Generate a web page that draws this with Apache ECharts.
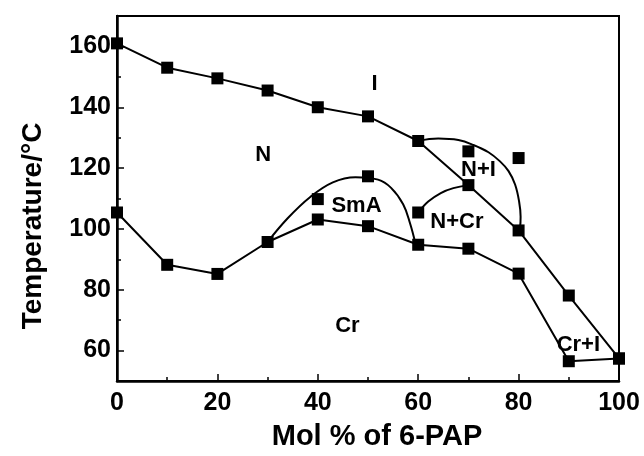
<!DOCTYPE html>
<html>
<head>
<meta charset="utf-8">
<script src="https://cdn.jsdelivr.net/npm/echarts@6/dist/echarts.min.js"></script>
<style>html,body{margin:0;padding:0;background:#fff;}#chart{width:644px;height:456px;}</style>
</head>
<body>
<div id="chart"></div>
<script>
// Compositions (mol % of 6-PAP)
const xValues = [0, 10, 20, 30, 40, 50, 60, 70, 80, 90, 100];
// Upper transition line (N / I boundary)
const upperT = [161, 153, 149.5, 145.5, 140, 137, 128.9, 114.4, 99.5, 78.1, 57.4];
// Lower transition line (Cr melting)
const lowerT = [105.4, 88.2, 85.2, 95.7, 103.1, 100.9, 94.8, 93.5, 85.3, 56.5, 57.4];
// Extra isolated transition points
const extraX = [40, 50, 60, 70, 80];
const extraT = [109.8, 117.3, 105.4, 125.5, 123.3];
// Hand-drawn boundary curves
const smaCurveX = [30, 34, 38.5, 43, 47.5, 52, 54.6, 57, 58.4, 59.4];
const smaCurveT = [95.7, 103.5, 110.5, 115.3, 117, 116.2, 113.5, 108.1, 101.7, 95.5];
const nCrCurveX = [60, 62, 64.5, 67, 70];
const nCrCurveT = [105.4, 109, 111.8, 113.4, 114.4];
const nICurveX = [60, 64, 68, 71, 74, 76.3, 78, 79.3, 80.1, 80.4, 80.3, 80];
const nICurveT = [128.9, 129.7, 129.2, 127.6, 125.2, 122.2, 119, 114.6, 109, 104, 100.6, 99.5];
// Phase region labels
const regionNames = ['I', 'N', 'SmA', 'N+I', 'N+Cr', 'Cr', 'Cr+I'];
const regionX = [51.3, 29.1, 47.7, 72.0, 67.7, 45.9, 91.9];
const regionT = [147.7, 124.3, 107.6, 119.5, 102.2, 68.0, 61.7];
// Axis ticks
const yMajorTicks = [60, 80, 100, 120, 140, 160];
const xTitle = 'Mol % of 6-PAP';
const yTitle = 'Temperature/°C';

const zip = (xs, ys) => xs.map((x, i) => [x, ys[i]]);
const FONT = '"Liberation Sans", Arial, sans-serif';

const chart = echarts.init(document.getElementById('chart'));
const lineStyle = { color: '#000', width: 2 };
const marker = { symbol: 'rect', symbolSize: 12, itemStyle: { color: '#000', opacity: 1 } };

chart.setOption({
  animation: false,
  backgroundColor: '#fff',
  grid: { left: 117, right: 25, top: 16, bottom: 71, show: true, borderColor: '#000', borderWidth: 2 },
  xAxis: {
    type: 'value', min: 0, max: 100, interval: 20,
    axisLine: { show: true, lineStyle: { color: '#000', width: 2.5 } },
    axisTick: { inside: true, length: 7, lineStyle: { color: '#000', width: 1.5 } },
    minorTick: { show: true, splitNumber: 2, length: 4, lineStyle: { color: '#000', width: 1.5 } },
    splitLine: { show: false },
    axisLabel: { color: '#000', fontSize: 25, fontWeight: 'bold', fontFamily: FONT, margin: 10 },
    name: xTitle, nameLocation: 'middle', nameGap: 41,
    nameTextStyle: { color: '#000', fontSize: 29, fontWeight: 'bold', fontFamily: FONT, padding: [0, 0, 0, 18] }
  },
  yAxis: [{
    type: 'value', min: 50, max: 170,
    axisLine: { show: true, lineStyle: { color: '#000', width: 2.5 } },
    axisTick: { inside: true, length: 7, customValues: yMajorTicks, lineStyle: { color: '#000', width: 1.5 } },
    splitLine: { show: false },
    axisLabel: { customValues: yMajorTicks, color: '#000', fontSize: 25, fontWeight: 'bold', fontFamily: FONT, margin: 6 }
  }, {
    type: 'value', min: 50, max: 170, interval: 10, position: 'left',
    axisLine: { show: false },
    axisTick: { show: true, inside: true, length: 4, lineStyle: { color: '#000', width: 1.5 } },
    axisLabel: { show: false }, splitLine: { show: false }
  }],
  graphic: [{
    type: 'text', x: 33, y: 226, rotation: Math.PI / 2, silent: true,
    style: { text: yTitle, fill: '#000', font: 'bold 28px ' + FONT, align: 'center', verticalAlign: 'middle' }
  }],
  series: [
    { type: 'line', data: zip(xValues, upperT), lineStyle, ...marker, silent: true },
    { type: 'line', data: zip(xValues, lowerT), lineStyle, ...marker, silent: true },
    { type: 'scatter', data: zip(extraX, extraT), ...marker, silent: true },
    { type: 'line', data: zip(smaCurveX, smaCurveT), smooth: 0.4, showSymbol: false, symbol: 'none', lineStyle, silent: true },
    { type: 'line', data: zip(nCrCurveX, nCrCurveT), smooth: 0.4, showSymbol: false, symbol: 'none', lineStyle, silent: true },
    { type: 'line', data: zip(nICurveX, nICurveT), smooth: 0.4, showSymbol: false, symbol: 'none', lineStyle, silent: true },
    {
      type: 'scatter', symbolSize: 0, silent: true, itemStyle: { opacity: 1 },
      data: regionNames.map((n, i) => ({ value: [regionX[i], regionT[i]], name: n })),
      label: { show: true, position: 'inside', formatter: p => p.name, color: '#000', opacity: 1, fontSize: 22, fontWeight: 'bold', fontFamily: FONT }
    }
  ]
});
</script>
</body>
</html>
